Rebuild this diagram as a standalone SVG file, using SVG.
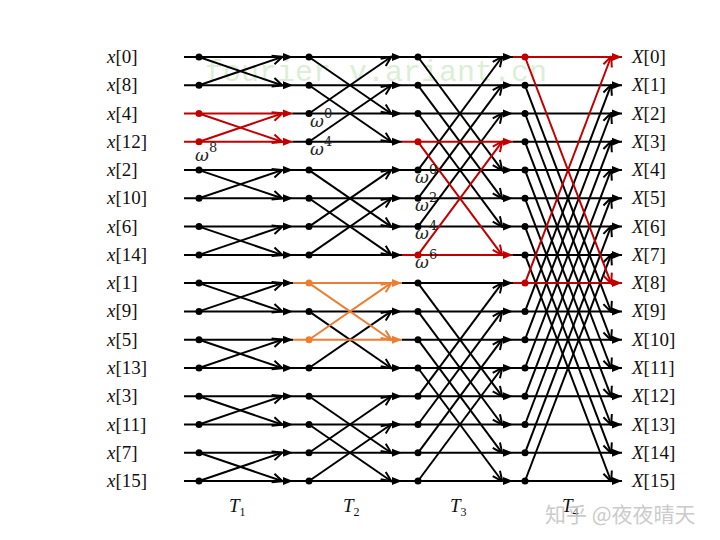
<svg xmlns="http://www.w3.org/2000/svg" width="720" height="540" viewBox="0 0 720 540">
<style>
.k{stroke:#000;stroke-width:2;fill:none}
.r{stroke:#c00000;stroke-width:2;fill:none}
.o{stroke:#ed7d31;stroke-width:2;fill:none}
.hk{marker-mid:url(#hk);marker-end:url(#hk)}
.hr{marker-end:url(#hr)}
.ho{marker-end:url(#ho)}
.dk{marker-end:url(#dk)}
.dr{marker-end:url(#dr)}
.do{marker-end:url(#do)}
.lbl{font-family:"Liberation Serif","DejaVu Serif",serif;font-size:19px;fill:#111}
.w{font-family:"DejaVu Serif","Liberation Serif",serif;font-size:17px;font-style:italic;fill:#222}
.sup{font-size:13px;font-style:normal}
.nk circle{fill:#000}
</style>
<defs>
<marker id="hk" viewBox="0 -5 10 10" refX="10" refY="0" markerWidth="10" markerHeight="10" markerUnits="userSpaceOnUse" orient="auto"><path d="M0,-4 L10,0 L0,4 z" fill="#000"/></marker>
<marker id="hr" viewBox="0 -5 10 10" refX="10" refY="0" markerWidth="10" markerHeight="10" markerUnits="userSpaceOnUse" orient="auto"><path d="M0,-4 L10,0 L0,4 z" fill="#c00000"/></marker>
<marker id="ho" viewBox="0 -5 10 10" refX="10" refY="0" markerWidth="10" markerHeight="10" markerUnits="userSpaceOnUse" orient="auto"><path d="M0,-4 L10,0 L0,4 z" fill="#ed7d31"/></marker>
<marker id="dk" viewBox="-1 -6 12 12" refX="9.5" refY="0" markerWidth="12" markerHeight="12" markerUnits="userSpaceOnUse" orient="auto"><path d="M0,-4.5 L10,0 L0,4.5" fill="none" stroke="#000" stroke-width="2"/></marker>
<marker id="dr" viewBox="-1 -6 12 12" refX="9.5" refY="0" markerWidth="12" markerHeight="12" markerUnits="userSpaceOnUse" orient="auto"><path d="M0,-4.5 L10,0 L0,4.5" fill="none" stroke="#c00000" stroke-width="2"/></marker>
<marker id="do" viewBox="-1 -6 12 12" refX="9.5" refY="0" markerWidth="12" markerHeight="12" markerUnits="userSpaceOnUse" orient="auto"><path d="M0,-4.5 L10,0 L0,4.5" fill="none" stroke="#ed7d31" stroke-width="2"/></marker>
</defs>
<rect width="720" height="540" fill="#fff"/>
<text x="205" y="81" font-family="Liberation Mono, DejaVu Sans Mono, monospace" font-size="30" fill="#ddeed6">fourier v.ariant.cn</text>

<g id="connectors">
<polyline class="k hk" points="184,85.3 293,85.3 402,85.3 513,85.3 622,85.3"/>
<polyline class="k hk" points="184,170.1 293,170.1 402,170.1 513,170.1 622,170.1"/>
<polyline class="k hk" points="184,198.3 293,198.3 402,198.3 513,198.3 622,198.3"/>
<polyline class="k hk" points="184,226.6 293,226.6 402,226.6 513,226.6 622,226.6"/>
<polyline class="k hk" points="184,311.4 293,311.4 402,311.4 513,311.4 622,311.4"/>
<polyline class="k hk" points="184,368 293,368 402,368 513,368 622,368"/>
<polyline class="k hk" points="184,396.2 293,396.2 402,396.2 513,396.2 622,396.2"/>
<polyline class="k hk" points="184,424.5 293,424.5 402,424.5 513,424.5 622,424.5"/>
<polyline class="k hk" points="184,452.8 293,452.8 402,452.8 513,452.8 622,452.8"/>
<polyline class="k hk" points="184,481 293,481 402,481 513,481 622,481"/>
<polyline class="k hk" points="184,57 293,57 402,57 513,57"/>
<polyline class="k hk" points="293,113.5 402,113.5 513,113.5 622,113.5"/>
<polyline class="k hk" points="293,141.8 402,141.8"/>
<polyline class="k hk" points="513,141.8 622,141.8"/>
<polyline class="k hk" points="184,254.9 293,254.9 402,254.9"/>
<polyline class="k hk" points="513,254.9 622,254.9"/>
<polyline class="k hk" points="184,283.1 293,283.1"/>
<polyline class="k hk" points="402,283.1 513,283.1"/>
<polyline class="k hk" points="184,339.7 293,339.7"/>
<polyline class="k hk" points="402,339.7 513,339.7 622,339.7"/>

<line class="k dk" x1="199" y1="57" x2="282" y2="85.3"/>
<line class="k dk" x1="199" y1="85.3" x2="282" y2="57"/>
<line class="k dk" x1="199" y1="170.1" x2="282" y2="198.3"/>
<line class="k dk" x1="199" y1="198.3" x2="282" y2="170.1"/>
<line class="k dk" x1="199" y1="226.6" x2="282" y2="254.9"/>
<line class="k dk" x1="199" y1="254.9" x2="282" y2="226.6"/>
<line class="k dk" x1="199" y1="283.1" x2="282" y2="311.4"/>
<line class="k dk" x1="199" y1="311.4" x2="282" y2="283.1"/>
<line class="k dk" x1="199" y1="339.7" x2="282" y2="368"/>
<line class="k dk" x1="199" y1="368" x2="282" y2="339.7"/>
<line class="k dk" x1="199" y1="396.2" x2="282" y2="424.5"/>
<line class="k dk" x1="199" y1="424.5" x2="282" y2="396.2"/>
<line class="k dk" x1="199" y1="452.8" x2="282" y2="481"/>
<line class="k dk" x1="199" y1="481" x2="282" y2="452.8"/>
<line class="k dk" x1="309" y1="57" x2="391" y2="113.5"/>
<line class="k dk" x1="309" y1="113.5" x2="391" y2="57"/>
<line class="k dk" x1="309" y1="85.3" x2="391" y2="141.8"/>
<line class="k dk" x1="309" y1="141.8" x2="391" y2="85.3"/>
<line class="k dk" x1="309" y1="170.1" x2="391" y2="226.6"/>
<line class="k dk" x1="309" y1="226.6" x2="391" y2="170.1"/>
<line class="k dk" x1="309" y1="198.3" x2="391" y2="254.9"/>
<line class="k dk" x1="309" y1="254.9" x2="391" y2="198.3"/>
<line class="k dk" x1="309" y1="311.4" x2="391" y2="368"/>
<line class="k dk" x1="309" y1="368" x2="391" y2="311.4"/>
<line class="k dk" x1="309" y1="396.2" x2="391" y2="452.8"/>
<line class="k dk" x1="309" y1="452.8" x2="391" y2="396.2"/>
<line class="k dk" x1="309" y1="424.5" x2="391" y2="481"/>
<line class="k dk" x1="309" y1="481" x2="391" y2="424.5"/>
<line class="k dk" x1="418" y1="57" x2="502" y2="170.1"/>
<line class="k dk" x1="418" y1="170.1" x2="502" y2="57"/>
<line class="k dk" x1="418" y1="85.3" x2="502" y2="198.3"/>
<line class="k dk" x1="418" y1="198.3" x2="502" y2="85.3"/>
<line class="k dk" x1="418" y1="113.5" x2="502" y2="226.6"/>
<line class="k dk" x1="418" y1="226.6" x2="502" y2="113.5"/>
<line class="k dk" x1="418" y1="283.1" x2="502" y2="396.2"/>
<line class="k dk" x1="418" y1="396.2" x2="502" y2="283.1"/>
<line class="k dk" x1="418" y1="311.4" x2="502" y2="424.5"/>
<line class="k dk" x1="418" y1="424.5" x2="502" y2="311.4"/>
<line class="k dk" x1="418" y1="339.7" x2="502" y2="452.8"/>
<line class="k dk" x1="418" y1="452.8" x2="502" y2="339.7"/>
<line class="k dk" x1="418" y1="368" x2="502" y2="481"/>
<line class="k dk" x1="418" y1="481" x2="502" y2="368"/>
<line class="k dk" x1="525" y1="85.3" x2="611" y2="311.4"/>
<line class="k dk" x1="525" y1="311.4" x2="611" y2="85.3"/>
<line class="k dk" x1="525" y1="113.5" x2="611" y2="339.7"/>
<line class="k dk" x1="525" y1="339.7" x2="611" y2="113.5"/>
<line class="k dk" x1="525" y1="141.8" x2="611" y2="368"/>
<line class="k dk" x1="525" y1="368" x2="611" y2="141.8"/>
<line class="k dk" x1="525" y1="170.1" x2="611" y2="396.2"/>
<line class="k dk" x1="525" y1="396.2" x2="611" y2="170.1"/>
<line class="k dk" x1="525" y1="198.3" x2="611" y2="424.5"/>
<line class="k dk" x1="525" y1="424.5" x2="611" y2="198.3"/>
<line class="k dk" x1="525" y1="226.6" x2="611" y2="452.8"/>
<line class="k dk" x1="525" y1="452.8" x2="611" y2="226.6"/>
<line class="k dk" x1="525" y1="254.9" x2="611" y2="481"/>
<line class="k dk" x1="525" y1="481" x2="611" y2="254.9"/>

<line class="r hr" x1="184" y1="113.5" x2="293" y2="113.5"/>
<line class="r hr" x1="184" y1="141.8" x2="293" y2="141.8"/>
<line class="r dr" x1="199" y1="113.5" x2="282" y2="141.8"/>
<line class="r dr" x1="199" y1="141.8" x2="282" y2="113.5"/>
<line class="o ho" x1="293" y1="283.1" x2="402" y2="283.1"/>
<line class="o ho" x1="293" y1="339.7" x2="402" y2="339.7"/>
<line class="o do" x1="309" y1="283.1" x2="391" y2="339.7"/>
<line class="o do" x1="309" y1="339.7" x2="391" y2="283.1"/>
<line class="r hr" x1="402" y1="141.8" x2="513" y2="141.8"/>
<line class="r hr" x1="402" y1="254.9" x2="513" y2="254.9"/>
<line class="r dr" x1="418" y1="141.8" x2="502" y2="254.9"/>
<line class="r dr" x1="418" y1="254.9" x2="502" y2="141.8"/>
<line class="r hr" x1="513" y1="57" x2="622" y2="57"/>
<line class="r hr" x1="513" y1="283.1" x2="622" y2="283.1"/>
<line class="r dr" x1="525" y1="57" x2="611" y2="283.1"/>
<line class="r dr" x1="525" y1="283.1" x2="611" y2="57"/>
</g>

<g id="nodes-T1" class="nk">
<circle cx="199" cy="57" r="3.5"/><circle cx="199" cy="85.3" r="3.5"/>
<circle cx="199" cy="113.5" r="3.5" style="fill:#c00000"/><circle cx="199" cy="141.8" r="3.5" style="fill:#c00000"/>
<circle cx="199" cy="170.1" r="3.5"/><circle cx="199" cy="198.3" r="3.5"/><circle cx="199" cy="226.6" r="3.5"/><circle cx="199" cy="254.9" r="3.5"/>
<circle cx="199" cy="283.1" r="3.5"/><circle cx="199" cy="311.4" r="3.5"/><circle cx="199" cy="339.7" r="3.5"/><circle cx="199" cy="368" r="3.5"/>
<circle cx="199" cy="396.2" r="3.5"/><circle cx="199" cy="424.5" r="3.5"/><circle cx="199" cy="452.8" r="3.5"/><circle cx="199" cy="481" r="3.5"/>
</g>
<g id="nodes-T2" class="nk">
<circle cx="309" cy="57" r="3.5"/><circle cx="309" cy="85.3" r="3.5"/><circle cx="309" cy="113.5" r="3.5"/><circle cx="309" cy="141.8" r="3.5"/>
<circle cx="309" cy="170.1" r="3.5"/><circle cx="309" cy="198.3" r="3.5"/><circle cx="309" cy="226.6" r="3.5"/><circle cx="309" cy="254.9" r="3.5"/>
<circle cx="309" cy="283.1" r="3.5" style="fill:#ed7d31"/><circle cx="309" cy="311.4" r="3.5"/><circle cx="309" cy="339.7" r="3.5" style="fill:#ed7d31"/><circle cx="309" cy="368" r="3.5"/>
<circle cx="309" cy="396.2" r="3.5"/><circle cx="309" cy="424.5" r="3.5"/><circle cx="309" cy="452.8" r="3.5"/><circle cx="309" cy="481" r="3.5"/>
</g>
<g id="nodes-T3" class="nk">
<circle cx="418" cy="57" r="3.5"/><circle cx="418" cy="85.3" r="3.5"/><circle cx="418" cy="113.5" r="3.5"/><circle cx="418" cy="141.8" r="3.5" style="fill:#c00000"/>
<circle cx="418" cy="170.1" r="3.5"/><circle cx="418" cy="198.3" r="3.5"/><circle cx="418" cy="226.6" r="3.5"/><circle cx="418" cy="254.9" r="3.5" style="fill:#c00000"/>
<circle cx="418" cy="283.1" r="3.5"/><circle cx="418" cy="311.4" r="3.5"/><circle cx="418" cy="339.7" r="3.5"/><circle cx="418" cy="368" r="3.5"/>
<circle cx="418" cy="396.2" r="3.5"/><circle cx="418" cy="424.5" r="3.5"/><circle cx="418" cy="452.8" r="3.5"/><circle cx="418" cy="481" r="3.5"/>
</g>
<g id="nodes-T4" class="nk">
<circle cx="525" cy="57" r="3.5" style="fill:#c00000"/><circle cx="525" cy="85.3" r="3.5"/><circle cx="525" cy="113.5" r="3.5"/><circle cx="525" cy="141.8" r="3.5"/>
<circle cx="525" cy="170.1" r="3.5"/><circle cx="525" cy="198.3" r="3.5"/><circle cx="525" cy="226.6" r="3.5"/><circle cx="525" cy="254.9" r="3.5"/>
<circle cx="525" cy="283.1" r="3.5" style="fill:#c00000"/><circle cx="525" cy="311.4" r="3.5"/><circle cx="525" cy="339.7" r="3.5"/><circle cx="525" cy="368" r="3.5"/>
<circle cx="525" cy="396.2" r="3.5"/><circle cx="525" cy="424.5" r="3.5"/><circle cx="525" cy="452.8" r="3.5"/><circle cx="525" cy="481" r="3.5"/>
</g>

<g id="twiddles" class="w">
<text x="195" y="161">ω<tspan class="sup" dy="-9">8</tspan></text>
<text x="310" y="127">ω<tspan class="sup" dy="-9">0</tspan></text>
<text x="310" y="155">ω<tspan class="sup" dy="-9">4</tspan></text>
<text x="415" y="183">ω<tspan class="sup" dy="-9">0</tspan></text>
<text x="415" y="211">ω<tspan class="sup" dy="-9">2</tspan></text>
<text x="415" y="239">ω<tspan class="sup" dy="-9">4</tspan></text>
<text x="415" y="268">ω<tspan class="sup" dy="-9">6</tspan></text>
</g>

<g id="inputs" class="lbl">
<text x="107" y="63"><tspan font-style="italic">x</tspan>[0]</text>
<text x="107" y="91.3"><tspan font-style="italic">x</tspan>[8]</text>
<text x="107" y="119.5"><tspan font-style="italic">x</tspan>[4]</text>
<text x="107" y="147.8"><tspan font-style="italic">x</tspan>[12]</text>
<text x="107" y="176.1"><tspan font-style="italic">x</tspan>[2]</text>
<text x="107" y="204.3"><tspan font-style="italic">x</tspan>[10]</text>
<text x="107" y="232.6"><tspan font-style="italic">x</tspan>[6]</text>
<text x="107" y="260.9"><tspan font-style="italic">x</tspan>[14]</text>
<text x="107" y="289.1"><tspan font-style="italic">x</tspan>[1]</text>
<text x="107" y="317.4"><tspan font-style="italic">x</tspan>[9]</text>
<text x="107" y="345.7"><tspan font-style="italic">x</tspan>[5]</text>
<text x="107" y="374"><tspan font-style="italic">x</tspan>[13]</text>
<text x="107" y="402.2"><tspan font-style="italic">x</tspan>[3]</text>
<text x="107" y="430.5"><tspan font-style="italic">x</tspan>[11]</text>
<text x="107" y="458.8"><tspan font-style="italic">x</tspan>[7]</text>
<text x="107" y="487"><tspan font-style="italic">x</tspan>[15]</text>
</g>
<g id="outputs" class="lbl">
<text x="632" y="63"><tspan font-style="italic">X</tspan>[0]</text>
<text x="632" y="91.3"><tspan font-style="italic">X</tspan>[1]</text>
<text x="632" y="119.5"><tspan font-style="italic">X</tspan>[2]</text>
<text x="632" y="147.8"><tspan font-style="italic">X</tspan>[3]</text>
<text x="632" y="176.1"><tspan font-style="italic">X</tspan>[4]</text>
<text x="632" y="204.3"><tspan font-style="italic">X</tspan>[5]</text>
<text x="632" y="232.6"><tspan font-style="italic">X</tspan>[6]</text>
<text x="632" y="260.9"><tspan font-style="italic">X</tspan>[7]</text>
<text x="632" y="289.1"><tspan font-style="italic">X</tspan>[8]</text>
<text x="632" y="317.4"><tspan font-style="italic">X</tspan>[9]</text>
<text x="632" y="345.7"><tspan font-style="italic">X</tspan>[10]</text>
<text x="632" y="374"><tspan font-style="italic">X</tspan>[11]</text>
<text x="632" y="402.2"><tspan font-style="italic">X</tspan>[12]</text>
<text x="632" y="430.5"><tspan font-style="italic">X</tspan>[13]</text>
<text x="632" y="458.8"><tspan font-style="italic">X</tspan>[14]</text>
<text x="632" y="487"><tspan font-style="italic">X</tspan>[15]</text>
</g>
<g id="stages" class="lbl">
<text x="229" y="512"><tspan font-style="italic">T</tspan><tspan font-size="12" dy="4">1</tspan></text>
<text x="343" y="512"><tspan font-style="italic">T</tspan><tspan font-size="12" dy="4">2</tspan></text>
<text x="450" y="512"><tspan font-style="italic">T</tspan><tspan font-size="12" dy="4">3</tspan></text>
<text x="562" y="512"><tspan font-style="italic">T</tspan><tspan font-size="12" dy="4">4</tspan></text>
</g>
<text x="545" y="522" font-family="Noto Sans CJK SC, sans-serif" font-size="21" fill="#c4c4c4" fill-opacity="0.9">知乎 @夜夜晴天</text>
</svg>
